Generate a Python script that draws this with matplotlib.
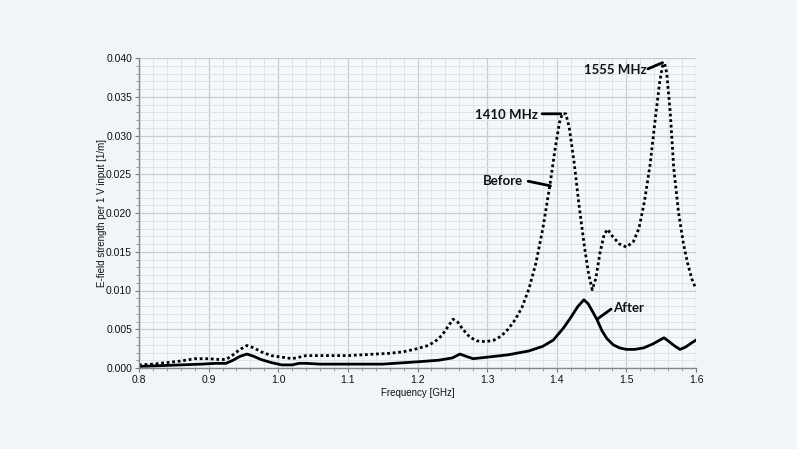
import matplotlib
matplotlib.use("Agg")
import matplotlib.pyplot as plt
from matplotlib.ticker import MultipleLocator, FormatStrFormatter

# ---- data ----
freq_before = [0.800, 0.820, 0.840, 0.860, 0.880, 0.900, 0.915, 0.925, 0.935, 0.945, 0.955, 0.965,
               0.975, 0.990, 1.005, 1.020, 1.030, 1.040, 1.060, 1.080, 1.100, 1.120, 1.140, 1.160,
               1.180, 1.200, 1.215, 1.225, 1.235, 1.245, 1.251, 1.258, 1.265, 1.275, 1.285, 1.298,
               1.310, 1.320, 1.330, 1.340, 1.350, 1.360, 1.370, 1.380, 1.390, 1.398, 1.404, 1.408,
               1.413, 1.418, 1.425, 1.432, 1.440, 1.446, 1.451, 1.456, 1.462, 1.468, 1.473, 1.480,
               1.490, 1.500, 1.510, 1.518, 1.526, 1.534, 1.542, 1.548, 1.552, 1.555, 1.558, 1.563,
               1.568, 1.575, 1.582, 1.588, 1.594, 1.600]
e_before = [0.0004, 0.0005, 0.0007, 0.0009, 0.0012, 0.0012, 0.0011, 0.0011, 0.0017, 0.0024, 0.0029, 0.0026,
            0.0021, 0.0016, 0.0014, 0.0012, 0.0014, 0.0016, 0.0016, 0.0016, 0.0016, 0.0017, 0.0018, 0.0019,
            0.0021, 0.0025, 0.0029, 0.0034, 0.0042, 0.0055, 0.0063, 0.0059, 0.0050, 0.0040, 0.0035, 0.0034,
            0.0036, 0.0041, 0.0050, 0.0062, 0.0078, 0.0102, 0.0135, 0.0180, 0.0235, 0.0285, 0.0317, 0.0328,
            0.0328, 0.0310, 0.0265, 0.0210, 0.0155, 0.0120, 0.0101, 0.0115, 0.0148, 0.0172, 0.0179, 0.0170,
            0.0160, 0.0156, 0.0163, 0.0180, 0.0215, 0.0262, 0.0325, 0.0370, 0.0390, 0.0393, 0.0380, 0.0330,
            0.0258, 0.0200, 0.0160, 0.0135, 0.0115, 0.0102]

freq_after = [0.800, 0.830, 0.860, 0.890, 0.910, 0.925, 0.935, 0.945, 0.955, 0.965, 0.975, 0.990,
              1.005, 1.020, 1.030, 1.040, 1.060, 1.100, 1.150, 1.200, 1.230, 1.250, 1.261, 1.270,
              1.280, 1.300, 1.330, 1.360, 1.380, 1.395, 1.410, 1.420, 1.430, 1.439, 1.445, 1.452,
              1.458, 1.465, 1.472, 1.481, 1.490, 1.500, 1.512, 1.525, 1.538, 1.548, 1.554, 1.560,
              1.570, 1.577, 1.585, 1.593, 1.600]
e_after = [0.0002, 0.0003, 0.0004, 0.0005, 0.0006, 0.0006, 0.0010, 0.0015, 0.0018, 0.0015, 0.0011, 0.0007,
           0.0004, 0.0004, 0.0006, 0.0006, 0.0005, 0.0005, 0.0005, 0.0008, 0.0010, 0.0013, 0.0018, 0.0015,
           0.0012, 0.0014, 0.0017, 0.0022, 0.0028, 0.0036, 0.0052, 0.0065, 0.0079, 0.0088, 0.0083, 0.0072,
           0.0062, 0.0048, 0.0038, 0.0030, 0.0026, 0.0024, 0.0024, 0.0026, 0.0031, 0.0036, 0.0039, 0.0035,
           0.0028, 0.0024, 0.0027, 0.0032, 0.0036]

x_ticks = [0.8, 0.9, 1.0, 1.1, 1.2, 1.3, 1.4, 1.5, 1.6]
y_ticks = [0.000, 0.005, 0.010, 0.015, 0.020, 0.025, 0.030, 0.035, 0.040]

bg = "#f1f5f8"
plt.rcParams['font.family'] = ['Liberation Sans', 'DejaVu Sans']

fig = plt.figure(figsize=(7.97, 4.49), dpi=100, facecolor=bg)
ax = fig.add_axes([139/797, 1 - 368/449, (696-139)/797, (368-58)/449])
ax.set_facecolor("#f5f8fa")

ax.plot(freq_before, e_before, color="black", lw=2.0, linestyle=(0, (1, 1)),
        dash_capstyle="butt")
ax.plot(freq_after, e_after, color="black", lw=2.0)

ax.set_xlim(0.8, 1.6)
ax.set_ylim(0.0, 0.040)
ax.set_xticks(x_ticks)
ax.set_yticks(y_ticks)
ax.xaxis.set_major_formatter(FormatStrFormatter('%.1f'))
ax.yaxis.set_major_formatter(FormatStrFormatter('%.3f'))
ax.xaxis.set_minor_locator(MultipleLocator(0.02))
ax.yaxis.set_minor_locator(MultipleLocator(0.001))

ax.grid(which='major', color="#c8ccd0", lw=0.9)
ax.grid(which='minor', color="#e0e3e6", lw=0.7)
ax.set_axisbelow(True)

for s in ['top', 'right']:
    ax.spines[s].set_visible(False)
for s in ['left', 'bottom']:
    ax.spines[s].set_color("#888888")
    ax.spines[s].set_linewidth(1.0)

ax.tick_params(which='major', direction='out', length=3, width=0.8, color="#777777",
               labelsize=7.5, labelcolor="#111111", pad=2)
ax.tick_params(which='minor', direction='out', length=2, width=0.6, color="#888888")

ax.set_xlabel("Frequency [GHz]", fontsize=7, color="#111111", labelpad=2)
ax.set_ylabel("E-field strength per 1 V input [1/m]", fontsize=7, color="#111111", labelpad=-1)

ann_font = dict(fontsize=9.5, fontweight='bold', family=['Lato', 'DejaVu Sans'], color="#111111")
line_kw = dict(arrowprops=dict(arrowstyle='-', lw=2, color='black', shrinkA=0, shrinkB=0))

ax.text(1.3735, 0.0326, "1410 MHz", ha='right', va='center', **ann_font)
ax.annotate("", xy=(1.406, 0.0328), xytext=(1.379, 0.0328), **line_kw)

ax.text(1.529, 0.0384, "1555 MHz", ha='right', va='center', **ann_font)
ax.annotate("", xy=(1.552, 0.0394), xytext=(1.531, 0.0386), **line_kw)

ax.text(1.351, 0.0241, "Before", ha='right', va='center', **ann_font)
ax.annotate("", xy=(1.391, 0.0235), xytext=(1.359, 0.0241), **line_kw)

ax.text(1.481, 0.0077, "After", ha='left', va='center', **ann_font)
ax.annotate("", xy=(1.458, 0.0063), xytext=(1.478, 0.0076), **line_kw)

fig.savefig("out.png", dpi=100, facecolor=bg)
